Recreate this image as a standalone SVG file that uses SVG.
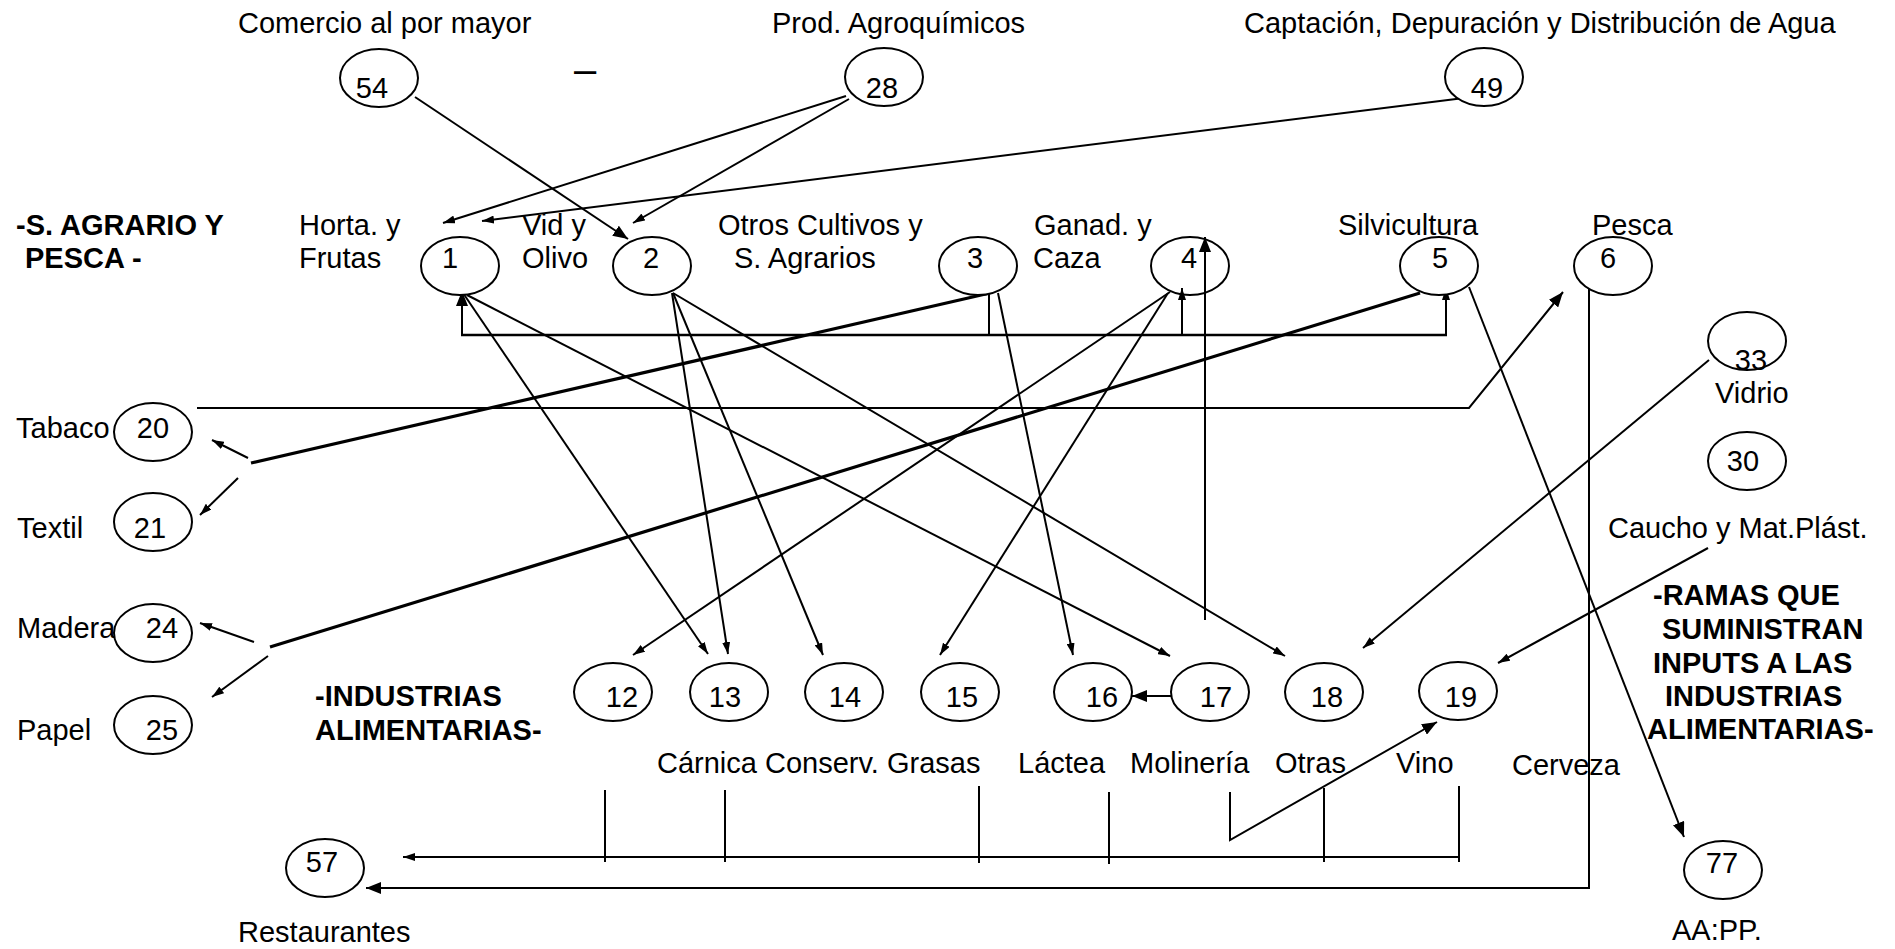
<svg xmlns="http://www.w3.org/2000/svg" width="1895" height="949" viewBox="0 0 1895 949">
  <style>
    text { font-family: "Liberation Sans", Arial, sans-serif; font-size: 29px; fill: #000; }
    .b { font-weight: bold; }
    .n { text-anchor: middle; }
    ellipse { fill: #fff; stroke: #000; stroke-width: 2; }
    .c { fill: none; stroke: #000; stroke-width: 2; }
    .t { fill: none; stroke: #000; stroke-width: 3.2; }
    .s { marker-end: url(#sm); }
    .g { marker-end: url(#bg); }
  </style>
  <defs>
    <marker id="sm" viewBox="0 0 12 8" refX="12" refY="4" markerWidth="12" markerHeight="8" markerUnits="userSpaceOnUse" orient="auto">
      <path d="M0,0 L12,4 L0,8 z" fill="#000"/>
    </marker>
    <marker id="bg" viewBox="0 0 15 12" refX="15" refY="6" markerWidth="15" markerHeight="12" markerUnits="userSpaceOnUse" orient="auto">
      <path d="M0,0 L15,6 L0,12 z" fill="#000"/>
    </marker>
  </defs>
  <rect width="1895" height="949" fill="#fff"/>

  <!-- headings and free labels -->
  <g id="labels">
    <text x="238" y="33">Comercio al por mayor</text>
    <text x="772" y="33">Prod. Agroquímicos</text>
    <text x="1244" y="33">Captación, Depuración y Distribución de Agua</text>
    <text x="585" y="83" class="n" style="font-size:40px">–</text>
    <text x="16" y="235" class="b">-S. AGRARIO Y</text>
    <text x="25" y="268" class="b">PESCA -</text>
    <text x="299" y="235">Horta. y</text>
    <text x="299" y="268">Frutas</text>
    <text x="522" y="235">Vid y</text>
    <text x="522" y="268">Olivo</text>
    <text x="718" y="235">Otros Cultivos y</text>
    <text x="734" y="268">S. Agrarios</text>
    <text x="1034" y="235">Ganad. y</text>
    <text x="1033" y="268">Caza</text>
    <text x="1338" y="235">Silvicultura</text>
    <text x="1592" y="235">Pesca</text>
    <text x="1715" y="403">Vidrio</text>
    <text x="1608" y="538">Caucho y Mat.Plást.</text>
    <text x="1653" y="605" class="b">-RAMAS QUE</text>
    <text x="1662" y="639" class="b">SUMINISTRAN</text>
    <text x="1653" y="673" class="b">INPUTS A LAS</text>
    <text x="1665" y="706" class="b">INDUSTRIAS</text>
    <text x="1647" y="739" class="b">ALIMENTARIAS-</text>
    <text x="16" y="438">Tabaco</text>
    <text x="17" y="538">Textil</text>
    <text x="17" y="638">Madera</text>
    <text x="17" y="740">Papel</text>
    <text x="315" y="706" class="b">-INDUSTRIAS</text>
    <text x="315" y="740" class="b">ALIMENTARIAS-</text>
    <text x="657" y="773">Cárnica Conserv. Grasas</text>
    <text x="1018" y="773">Láctea</text>
    <text x="1130" y="773">Molinería</text>
    <text x="1275" y="773">Otras</text>
    <text x="1396" y="773">Vino</text>
    <text x="1512" y="775">Cerveza</text>
    <text x="238" y="942">Restaurantes</text>
    <text x="1672" y="940">AA:PP.</text>
  </g>

  <!-- connectors -->
  <g id="connectors">
    <line class="c g" x1="415" y1="97" x2="628" y2="239"/>
    <line class="c s" x1="846" y1="96" x2="443" y2="223"/>
    <line class="c s" x1="849" y1="99" x2="633" y2="223"/>
    <line class="c s" x1="1472" y1="97" x2="482" y2="221"/>
    <!-- feed bracket from 3 -->
    <line class="c" x1="989" y1="288" x2="989" y2="335"/>
    <line class="c" x1="461" y1="335" x2="1447" y2="335" style="stroke-width:2.5"/>
    <line class="c g" x1="462" y1="335" x2="462" y2="291"/>
    <line class="c s" x1="1182" y1="335" x2="1182" y2="288"/>
    <line class="c s" x1="1446" y1="335" x2="1446" y2="288"/>
    <!-- thick feeders to the left column -->
    <line class="t" x1="990" y1="293" x2="251" y2="463"/>
    <line class="c s" x1="248" y1="458" x2="212" y2="440"/>
    <line class="c s" x1="238" y1="478" x2="200" y2="515"/>
    <line class="t" x1="1420" y1="293" x2="270" y2="647"/>
    <line class="c s" x1="254" y1="642" x2="200" y2="623"/>
    <line class="c s" x1="268" y1="656" x2="212" y2="697"/>
    <!-- agrarian to food industries -->
    <line class="c s" x1="998" y1="293" x2="1073" y2="655"/>
    <line class="c s" x1="463" y1="293" x2="708" y2="654"/>
    <line class="c s" x1="467" y1="295" x2="1170" y2="656"/>
    <line class="c s" x1="672" y1="293" x2="728" y2="654"/>
    <line class="c s" x1="673" y1="293" x2="823" y2="655"/>
    <line class="c s" x1="673" y1="293" x2="1285" y2="656"/>
    <line class="c s" x1="1170" y1="292" x2="633" y2="655"/>
    <line class="c s" x1="1168" y1="293" x2="940" y2="655"/>
    <line class="c g" x1="1469" y1="287" x2="1684" y2="837"/>
    <polyline class="c g" points="197,408 1469,408 1563,292"/>
    <polyline class="c g" points="1589,287 1589,888 366,888"/>
    <!-- bus towards restaurants -->
    <line class="c s" x1="1459" y1="857" x2="403" y2="857"/>
    <line class="c" x1="605" y1="790" x2="605" y2="862"/>
    <line class="c" x1="725" y1="790" x2="725" y2="862"/>
    <line class="c" x1="979" y1="786" x2="979" y2="863"/>
    <line class="c" x1="1109" y1="792" x2="1109" y2="864"/>
    <line class="c" x1="1324" y1="788" x2="1324" y2="862"/>
    <line class="c" x1="1459" y1="786" x2="1459" y2="862"/>
    <polyline class="c g" points="1230,792 1230,840 1437,722"/>
    <line class="c g" x1="1171" y1="696" x2="1132" y2="696"/>
    <line class="c g" x1="1205" y1="620" x2="1205" y2="237"/>
    <line class="c s" x1="1709" y1="360" x2="1363" y2="648"/>
    <line class="c s" x1="1708" y1="548" x2="1498" y2="663"/>
  </g>

  <!-- nodes -->
  <g id="n54"><ellipse cx="379" cy="78" rx="39" ry="29"/><text x="372" y="98" class="n">54</text></g>
  <g id="n28"><ellipse cx="884" cy="77" rx="39" ry="29"/><text x="882" y="98" class="n">28</text></g>
  <g id="n49"><ellipse cx="1484" cy="77" rx="39" ry="29"/><text x="1487" y="98" class="n">49</text></g>
  <g id="n1"><ellipse cx="460" cy="266" rx="39" ry="29"/><text x="450" y="268" class="n">1</text></g>
  <g id="n2"><ellipse cx="652" cy="266" rx="39" ry="29"/><text x="651" y="268" class="n">2</text></g>
  <g id="n3"><ellipse cx="978" cy="266" rx="39" ry="29"/><text x="975" y="268" class="n">3</text></g>
  <g id="n4"><ellipse cx="1190" cy="266" rx="39" ry="29" style="fill:none"/><text x="1189" y="268" class="n">4</text></g>
  <g id="n5"><ellipse cx="1439" cy="266" rx="39" ry="29"/><text x="1440" y="268" class="n">5</text></g>
  <g id="n6"><ellipse cx="1613" cy="266" rx="39" ry="29"/><text x="1608" y="268" class="n">6</text></g>
  <g id="n33"><ellipse cx="1747" cy="341" rx="39" ry="29"/><text x="1751" y="370" class="n">33</text></g>
  <g id="n30"><ellipse cx="1747" cy="461" rx="39" ry="29"/><text x="1743" y="471" class="n">30</text></g>
  <g id="n20"><ellipse cx="153" cy="432" rx="39" ry="29"/><text x="153" y="438" class="n">20</text></g>
  <g id="n21"><ellipse cx="153" cy="522" rx="39" ry="29"/><text x="150" y="538" class="n">21</text></g>
  <g id="n24"><ellipse cx="153" cy="633" rx="39" ry="29"/><text x="162" y="638" class="n">24</text></g>
  <g id="n25"><ellipse cx="153" cy="725" rx="39" ry="29"/><text x="162" y="740" class="n">25</text></g>
  <g id="n12"><ellipse cx="613" cy="692" rx="39" ry="29"/><text x="622" y="707" class="n">12</text></g>
  <g id="n13"><ellipse cx="729" cy="692" rx="39" ry="29"/><text x="725" y="707" class="n">13</text></g>
  <g id="n14"><ellipse cx="844" cy="692" rx="39" ry="29"/><text x="845" y="707" class="n">14</text></g>
  <g id="n15"><ellipse cx="960" cy="692" rx="39" ry="29"/><text x="962" y="707" class="n">15</text></g>
  <g id="n16"><ellipse cx="1093" cy="692" rx="39" ry="29"/><text x="1102" y="707" class="n">16</text></g>
  <g id="n17"><ellipse cx="1210" cy="692" rx="39" ry="29"/><text x="1216" y="707" class="n">17</text></g>
  <g id="n18"><ellipse cx="1324" cy="692" rx="39" ry="29"/><text x="1327" y="707" class="n">18</text></g>
  <g id="n19"><ellipse cx="1458" cy="691" rx="39" ry="29"/><text x="1461" y="707" class="n">19</text></g>
  <g id="n57"><ellipse cx="325" cy="868" rx="39" ry="29"/><text x="322" y="872" class="n">57</text></g>
  <g id="n77"><ellipse cx="1723" cy="870" rx="39" ry="29"/><text x="1722" y="873" class="n">77</text></g>
</svg>
